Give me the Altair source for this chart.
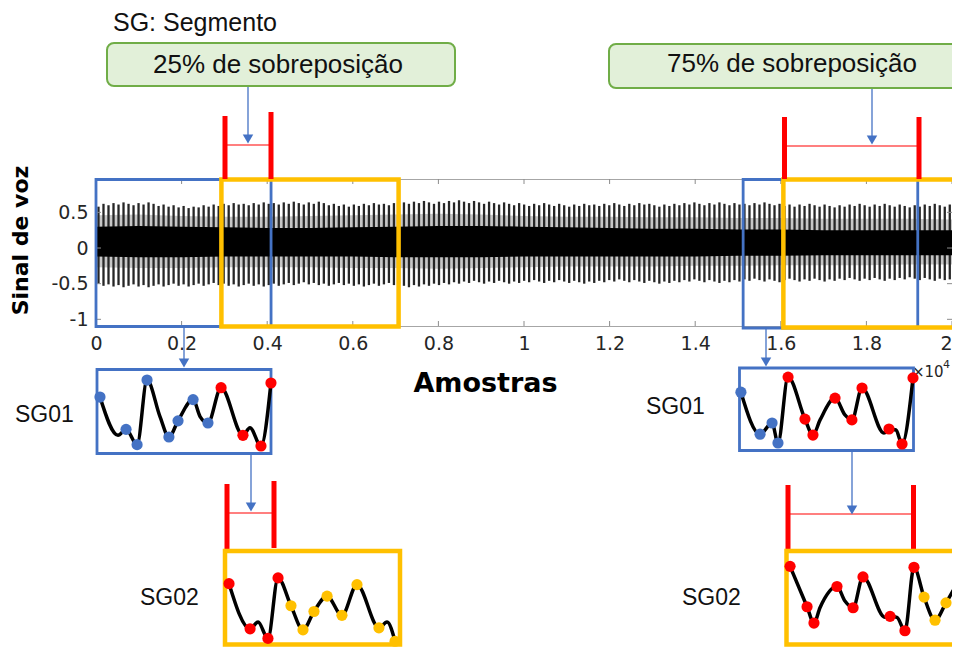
import altair as alt
import pandas as pd

# ---------------- data ----------------
x_tick_values = [0, 2000, 4000, 6000, 8000, 10000, 12000, 14000, 16000, 18000, 20000]
y_tick_values = [-1, -0.5, 0, 0.5]

# voiced speech: one glottal pulse every ~117 samples
period = 117
first_pulse = 58
peaks = [
    0.58, 0.62, 0.60, 0.63, 0.61, 0.64, 0.62, 0.60, 0.63, 0.61,
    0.64, 0.62, 0.59, 0.61, 0.58, 0.60, 0.57, 0.59, 0.56, 0.58,
    0.57, 0.60, 0.58, 0.61, 0.59, 0.62, 0.60, 0.63, 0.61, 0.62,
    0.60, 0.63, 0.61, 0.64, 0.62, 0.63, 0.61, 0.64, 0.62, 0.65,
    0.63, 0.61, 0.64, 0.62, 0.65, 0.63, 0.60, 0.62, 0.59, 0.61,
    0.58, 0.61, 0.59, 0.62, 0.60, 0.63, 0.61, 0.62, 0.60, 0.63,
    0.61, 0.64, 0.62, 0.65, 0.63, 0.66, 0.64, 0.62, 0.65, 0.63,
    0.66, 0.64, 0.67, 0.65, 0.63, 0.66, 0.64, 0.62, 0.65, 0.63,
    0.61, 0.64, 0.62, 0.60, 0.63, 0.61, 0.59, 0.62, 0.60, 0.63,
    0.61, 0.59, 0.62, 0.60, 0.58, 0.61, 0.59, 0.62, 0.60, 0.61,
    0.59, 0.62, 0.60, 0.63, 0.61, 0.59, 0.62, 0.60, 0.63, 0.61,
    0.62, 0.60, 0.58, 0.61, 0.59, 0.62, 0.60, 0.63, 0.61, 0.64,
    0.62, 0.60, 0.63, 0.61, 0.64, 0.62, 0.60, 0.63, 0.61, 0.62,
    0.60, 0.63, 0.61, 0.64, 0.62, 0.60, 0.62, 0.59, 0.61, 0.58,
    0.61, 0.59, 0.62, 0.60, 0.58, 0.61, 0.59, 0.57, 0.60, 0.58,
    0.61, 0.59, 0.62, 0.60, 0.58, 0.61, 0.59, 0.62, 0.60, 0.58,
    0.61, 0.59, 0.57, 0.60, 0.58, 0.61, 0.59, 0.62, 0.60, 0.58, 0.61,
]
troughs = [
    -0.50, -0.53, -0.51, -0.54, -0.52, -0.55, -0.53, -0.51, -0.54, -0.52,
    -0.55, -0.53, -0.51, -0.54, -0.52, -0.50, -0.53, -0.51, -0.54, -0.52,
    -0.50, -0.53, -0.51, -0.49, -0.52, -0.50, -0.53, -0.51, -0.54, -0.52,
    -0.50, -0.53, -0.51, -0.54, -0.52, -0.50, -0.53, -0.51, -0.49, -0.52,
    -0.50, -0.48, -0.51, -0.49, -0.52, -0.50, -0.53, -0.51, -0.49, -0.52,
    -0.50, -0.53, -0.51, -0.54, -0.52, -0.50, -0.53, -0.51, -0.49, -0.52,
    -0.50, -0.53, -0.55, -0.52, -0.54, -0.51, -0.53, -0.50, -0.52, -0.49,
    -0.51, -0.48, -0.50, -0.47, -0.49, -0.46, -0.48, -0.50, -0.47, -0.49,
    -0.46, -0.48, -0.50, -0.47, -0.49, -0.46, -0.48, -0.45, -0.47, -0.49,
    -0.46, -0.48, -0.45, -0.47, -0.49, -0.46, -0.48, -0.50, -0.47, -0.49,
    -0.46, -0.48, -0.45, -0.47, -0.44, -0.46, -0.48, -0.45, -0.47, -0.49,
    -0.46, -0.48, -0.50, -0.47, -0.49, -0.46, -0.48, -0.45, -0.47, -0.44,
    -0.46, -0.48, -0.45, -0.47, -0.49, -0.46, -0.48, -0.45, -0.47, -0.44,
    -0.46, -0.43, -0.45, -0.47, -0.44, -0.46, -0.48, -0.45, -0.43, -0.45,
    -0.47, -0.44, -0.46, -0.43, -0.45, -0.47, -0.44, -0.46, -0.43, -0.45,
    -0.42, -0.44, -0.46, -0.43, -0.45, -0.42, -0.44, -0.46, -0.43, -0.45,
    -0.42, -0.44, -0.41, -0.43, -0.45, -0.42, -0.44, -0.46, -0.43, -0.45, -0.44,
]

env_x = [0, 1000, 2000, 3000, 4000, 5000, 6000, 7000, 8000, 9000, 10000,
         11000, 12000, 13000, 14000, 15000, 16000, 17000, 18000, 19000, 20000]
core_hi = [0.30, 0.31, 0.30, 0.29, 0.28, 0.28, 0.29, 0.30, 0.31, 0.31, 0.30,
           0.29, 0.28, 0.27, 0.27, 0.26, 0.26, 0.25, 0.25, 0.25, 0.25]
core_lo = [-0.12, -0.13, -0.13, -0.12, -0.12, -0.12, -0.12, -0.13, -0.13, -0.13, -0.12,
           -0.12, -0.12, -0.12, -0.12, -0.11, -0.11, -0.10, -0.10, -0.10, -0.10]
mid_hi = [0.46, 0.47, 0.45, 0.44, 0.44, 0.45, 0.46, 0.47, 0.48, 0.47, 0.45,
          0.44, 0.44, 0.43, 0.43, 0.42, 0.42, 0.41, 0.41, 0.41, 0.40]
mid_lo = [-0.27, -0.28, -0.28, -0.27, -0.27, -0.27, -0.28, -0.28, -0.29, -0.28, -0.27,
          -0.26, -0.26, -0.26, -0.25, -0.25, -0.24, -0.24, -0.24, -0.23, -0.23]

# analysis windows (samples)
seg_start = [0, 2930, 15120, 16060]
seg_end = [4090, 7070, 19200, 20100]
seg_color = ["#4472c4", "#ffc000", "#4472c4", "#ffc000"]

# zoomed segments: relative sample position t, relative amplitude v, dot colour
B, R, O, N = "#4472c4", "#ff0000", "#ffc000", ""
sg01a_t = [0.017, 0.12, 0.166, 0.229, 0.286, 0.36, 0.411, 0.463, 0.549, 0.589, 0.634, 0.709, 0.834, 0.874, 0.937, 0.994]
sg01a_v = [0.67, 0.22, 0.29, 0.11, 0.87, 0.44, 0.20, 0.39, 0.64, 0.44, 0.365, 0.78, 0.22, 0.31, 0.094, 0.835]
sg01a_c = [B, N, B, B, B, N, B, B, B, N, B, R, R, N, R, R]

sg02a_t = [0.034, 0.153, 0.198, 0.254, 0.311, 0.384, 0.452, 0.514, 0.588, 0.672, 0.757, 0.881, 0.927, 0.972]
sg02a_v = [0.66, 0.204, 0.272, 0.107, 0.718, 0.437, 0.194, 0.379, 0.534, 0.34, 0.65, 0.214, 0.272, 0.078]
sg02a_c = [R, R, N, R, R, O, O, O, O, O, O, O, N, O]

sg01b_t = [0.011, 0.121, 0.19, 0.224, 0.282, 0.379, 0.425, 0.466, 0.552, 0.609, 0.649, 0.707, 0.833, 0.862, 0.902, 0.937, 1.0]
sg01b_v = [0.70, 0.20, 0.333, 0.095, 0.88, 0.38, 0.19, 0.37, 0.63, 0.43, 0.37, 0.75, 0.214, 0.262, 0.25, 0.083, 0.87]
sg01b_c = [B, B, B, B, R, R, R, N, R, N, R, R, N, R, N, R, R]

sg02b_t = [0.023, 0.119, 0.158, 0.192, 0.288, 0.333, 0.379, 0.435, 0.559, 0.588, 0.627, 0.672, 0.723, 0.78, 0.842, 0.904, 0.972]
sg02b_v = [0.835, 0.427, 0.262, 0.417, 0.631, 0.485, 0.417, 0.728, 0.32, 0.33, 0.32, 0.184, 0.825, 0.524, 0.291, 0.466, 0.68]
sg02b_c = [R, R, R, N, R, N, R, R, N, R, N, R, R, O, O, O, O]

# ---------------- layout (page pixels) ----------------
W, H = 856, 147
LEFT, TOP = 96, 179
X_MAX = 20000
Y_MAX = 0.968
PX_PER_Y = 71.3
Y_MIN = Y_MAX - H / PX_PER_Y
TXT_FONT = "Liberation Sans"


def X(px):
    return (px - LEFT) * X_MAX / W


def Y(py):
    return Y_MAX - (py - TOP) / PX_PER_Y


xs = alt.Scale(domain=[0, X_MAX], nice=False, zero=False)
ys = alt.Scale(domain=[Y_MIN, Y_MAX], nice=False, zero=False)


def ex(f="x"):
    return alt.X(f"{f}:Q", scale=xs)


def ey(f="y"):
    return alt.Y(f"{f}:Q", scale=ys)


# ---------------- waveform ----------------
pulses = pd.DataFrame({
    "x": [first_pulse + period * i for i in range(len(peaks))],
    "hi": peaks,
    "lo": troughs,
})
env = pd.DataFrame({"x": env_x, "ch": core_hi, "cl": core_lo, "mh": mid_hi, "ml": mid_lo})

mid_band = alt.Chart(env).mark_area(color="#000000", opacity=0.22).encode(
    x=alt.X("x:Q", scale=xs, axis=alt.Axis(
        values=x_tick_values, labelExpr="format(datum.value / 10000, '~g')",
        labelAlign={"condition": {"test": "datum.value >= 20000", "value": "right"}, "value": "center"},
        title="Amostras", domain=False, ticks=False, grid=False,
        labelFlush=False, labelOverlap=False, labelPadding=8, titlePadding=17,
        titleX=389, labelFontSize=19, titleFontSize=27)),
    y=alt.Y("ml:Q", scale=ys, axis=alt.Axis(
        values=y_tick_values,
        labelExpr="(datum.value < 0 ? '-' : '') + format(abs(datum.value), '~g')",
        title="Sinal de voz", domain=False, ticks=False, grid=False,
        labelFlush=False, labelOverlap=False, labelPadding=8, titlePadding=18,
        titleY=61, labelFontSize=19, titleFontSize=22)),
    y2="mh:Q",
)
pulse_rules = alt.Chart(pulses).mark_rule(color="#262626", strokeWidth=2.3).encode(
    x=ex(), y=ey("lo"), y2="hi:Q")
core_band = alt.Chart(env).mark_area(color="#000000").encode(x=ex(), y=ey("cl"), y2="ch:Q")

# frame ticks (inside, MATLAB style)
tk = 5
xt = pd.DataFrame({"x": x_tick_values, "b0": Y_MIN, "b1": Y_MIN + tk / PX_PER_Y,
                   "t0": Y_MAX, "t1": Y_MAX - tk / PX_PER_Y})
yt = pd.DataFrame({"y": y_tick_values, "l0": 0.0, "l1": tk * X_MAX / W,
                   "r0": float(X_MAX), "r1": X_MAX - tk * X_MAX / W})
tick_col = "#8c8c8c"
xt_bot = alt.Chart(xt).mark_rule(color=tick_col).encode(x=ex(), y=ey("b0"), y2="b1:Q")
xt_top = alt.Chart(xt).mark_rule(color=tick_col).encode(x=ex(), y=ey("t0"), y2="t1:Q")
yt_l = alt.Chart(yt).mark_rule(color=tick_col).encode(y=ey(), x=ex("l0"), x2="l1:Q")
yt_r = alt.Chart(yt).mark_rule(color=tick_col).encode(y=ey(), x=ex("r0"), x2="r1:Q")

# ---------------- segment windows on the signal ----------------
segs = pd.DataFrame({
    "x": seg_start, "x2": seg_end, "c": seg_color,
    "y": [Y(179.5)] * 4, "y2": [Y(326.5), Y(326.5), Y(328), Y(327.5)],
    "w": [2.8, 4.5, 2.8, 4.5],
})
seg_boxes = alt.Chart(segs).mark_rect(filled=False).encode(
    x=ex(), x2="x2:Q", y=ey(), y2="y2:Q",
    color=alt.Color("c:N", scale=None), strokeWidth=alt.StrokeWidth("w:Q", scale=None))

# ---------------- overlap brackets ----------------
bars_px = [(225, 116, 179), (271, 112, 179), (784.5, 117, 179), (919, 117, 179),
           (227, 484, 550), (274, 481, 548), (788, 485, 550), (913.5, 485, 550)]
bars = pd.DataFrame({"x": [X(a) for a, _, _ in bars_px],
                     "y": [Y(b) for _, b, _ in bars_px],
                     "y2": [Y(c) for _, _, c in bars_px]})
red_bars = alt.Chart(bars).mark_rule(color="#ff0000", strokeWidth=5).encode(x=ex(), y=ey(), y2="y2:Q")

spans_px = [(225, 271, 145), (784.5, 919, 146), (227, 274, 513), (788, 913.5, 514)]
spans = pd.DataFrame({"x": [X(a) for a, _, _ in spans_px],
                      "x2": [X(b) for _, b, _ in spans_px],
                      "y": [Y(c) for _, _, c in spans_px]})
red_spans = alt.Chart(spans).mark_rule(color="#ff0000", strokeWidth=1.2).encode(x=ex(), x2="x2:Q", y=ey())

# ---------------- blue arrows ----------------
arrows_px = [(248, 86, 144), (872, 88, 145), (184, 327, 368), (766, 329, 367), (251, 454, 512), (852, 451, 515)]
arrows = pd.DataFrame({"x": [X(a) for a, _, _ in arrows_px],
                       "y": [Y(b) for _, b, _ in arrows_px],
                       "y2": [Y(c - 6) for _, _, c in arrows_px],
                       "yh": [Y(c - 5) for _, _, c in arrows_px]})
arrow_lines = alt.Chart(arrows).mark_rule(color="#4472c4", strokeWidth=1.3).encode(x=ex(), y=ey(), y2="y2:Q")
arrow_heads = alt.Chart(arrows).mark_point(shape="triangle-down", filled=True, size=110,
                                           color="#4472c4", opacity=1).encode(x=ex(), y=ey("yh"))

# ---------------- callouts ----------------
gb = pd.DataFrame({"x": [X(107), X(609)], "x2": [X(455), X(958)],
                   "y": [Y(43), Y(44)], "y2": [Y(86), Y(88)]})
green_boxes = alt.Chart(gb).mark_rect(cornerRadius=7, fill="#e2f0d9", stroke="#70ad47",
                                      strokeWidth=2).encode(x=ex(), x2="x2:Q", y=ey(), y2="y2:Q")
gt = pd.DataFrame({"t": ["25% de sobreposição", "75% de sobreposição"],
                   "x": [X(278), X(792)], "y": [Y(73), Y(72)]})
green_text = alt.Chart(gt).mark_text(font=TXT_FONT, fontSize=26, color="#111111",
                                     align="center", baseline="alphabetic").encode(x=ex(), y=ey(), text="t:N")

head = pd.DataFrame({"t": ["SG: Segmento"], "x": [X(113)], "y": [Y(31)]})
head_text = alt.Chart(head).mark_text(font=TXT_FONT, fontSize=25, color="#111111",
                                      align="left", baseline="alphabetic").encode(x=ex(), y=ey(), text="t:N")

labels = pd.DataFrame({"t": ["SG01", "SG01", "SG02", "SG02"],
                       "x": [X(15), X(646), X(140), X(682)],
                       "y": [Y(422), Y(414), Y(605), Y(605)]})
label_text = alt.Chart(labels).mark_text(font=TXT_FONT, fontSize=23, color="#111111",
                                         align="left", baseline="alphabetic").encode(x=ex(), y=ey(), text="t:N")

exp_df = pd.DataFrame({"t": ["×10", "4"], "x": [X(912), X(943)], "y": [Y(377), Y(368)], "s": [15, 11]})
exp_text = alt.Chart(exp_df).mark_text(font="DejaVu Sans", color="#262626", align="left",
                                       baseline="alphabetic").encode(
    x=ex(), y=ey(), text="t:N", size=alt.Size("s:Q", scale=None))

# ---------------- zoomed segments ----------------
inset_frames = [(97, 369, 272, 454), (223, 550, 400, 649), (739, 367, 913, 451), (786, 550, 963, 649)]
inset_strokes = [(97, 369.5, 271, 453.5, B, 2.8), (225, 551, 400, 644.5, O, 4.5),
                 (739.5, 368, 913.5, 450.5, B, 2.8), (786.5, 551, 985, 644.5, O, 4.5)]
inset_data = [(sg01a_t, sg01a_v, sg01a_c), (sg02a_t, sg02a_v, sg02a_c),
              (sg01b_t, sg01b_v, sg01b_c), (sg02b_t, sg02b_v, sg02b_c)]

rows = []
for k, ((l, t0, r, b), (ts, vs, cs)) in enumerate(zip(inset_frames, inset_data)):
    for j, (t, v, c) in enumerate(zip(ts, vs, cs)):
        rows.append({"inset": k, "o": j, "x": X(l + t * (r - l)), "y": Y(t0 + (1 - v) * (b - t0)), "c": c})
pts = pd.DataFrame(rows)

ib = pd.DataFrame({"x": [X(s[0]) for s in inset_strokes], "x2": [X(s[2]) for s in inset_strokes],
                   "y": [Y(s[1]) for s in inset_strokes], "y2": [Y(s[3]) for s in inset_strokes],
                   "c": [s[4] for s in inset_strokes], "w": [s[5] for s in inset_strokes]})
inset_boxes = alt.Chart(ib).mark_rect(filled=False).encode(
    x=ex(), x2="x2:Q", y=ey(), y2="y2:Q",
    color=alt.Color("c:N", scale=None), strokeWidth=alt.StrokeWidth("w:Q", scale=None))
inset_lines = alt.Chart(pts).mark_line(color="#000000", strokeWidth=3.5, interpolate="monotone").encode(
    x=ex(), y=ey(), detail="inset:N", order="o:Q")
inset_dots = alt.Chart(pts).transform_filter("datum.c != ''").mark_circle(size=125, opacity=1).encode(
    x=ex(), y=ey(), color=alt.Color("c:N", scale=None))

chart = alt.layer(
    mid_band, pulse_rules, core_band,
    xt_bot, xt_top, yt_l, yt_r,
    seg_boxes, red_bars, red_spans,
    arrow_lines, arrow_heads,
    green_boxes, green_text, head_text, label_text,
    exp_text,
    inset_boxes, inset_lines, inset_dots,
).properties(
    width=W, height=H,
    autosize=alt.AutoSizeParams(type="none"),
    padding={"left": 88, "top": 171, "right": 0, "bottom": 321},
    background="white",
).configure_view(
    stroke="#a6a6a6", strokeWidth=1,
).configure_axis(
    labelFont="DejaVu Sans", labelColor="#262626",
    titleFont="DejaVu Sans", titleFontWeight="bold", titleColor="#000000",
)

chart.save("out.html", embed_options={"renderer": "svg", "actions": False})
